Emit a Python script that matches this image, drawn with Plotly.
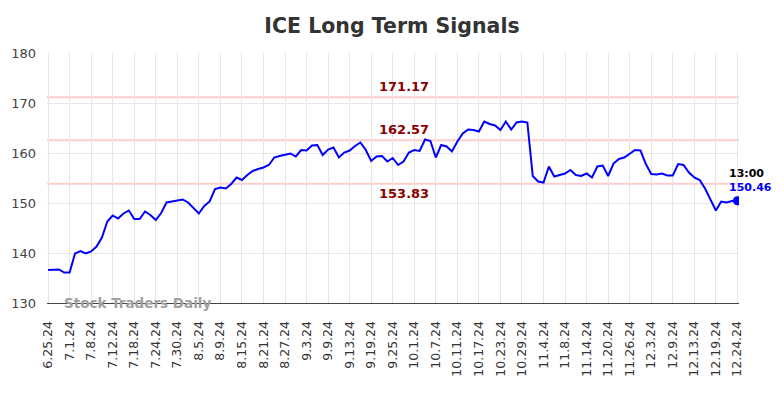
import plotly.graph_objects as go

tick_labels = ["6.25.24", "7.1.24", "7.8.24", "7.12.24", "7.18.24", "7.24.24", "7.30.24",
               "8.5.24", "8.9.24", "8.15.24", "8.21.24", "8.27.24", "9.3.24", "9.9.24",
               "9.13.24", "9.19.24", "9.25.24", "10.1.24", "10.7.24", "10.11.24", "10.17.24",
               "10.23.24", "10.29.24", "11.4.24", "11.8.24", "11.14.24", "11.20.24",
               "11.26.24", "12.3.24", "12.9.24", "12.13.24", "12.19.24", "12.24.24"]

prices = [136.6, 136.6, 136.7, 136.1, 136.1, 139.9, 140.4, 139.9, 140.3, 141.3,
          143.1, 146.3, 147.5, 146.9, 147.9, 148.5, 146.8, 146.8, 148.3, 147.6,
          146.6, 148.0, 150.1, 150.3, 150.5, 150.7, 150.1, 149.0, 147.9, 149.4,
          150.3, 152.8, 153.1, 152.9, 153.8, 155.1, 154.6, 155.6, 156.4, 156.8,
          157.1, 157.6, 159.1, 159.4, 159.7, 159.9, 159.3, 160.6, 160.5, 161.5,
          161.6, 159.6, 160.7, 161.1, 159.1, 160.1, 160.5, 161.4, 162.1, 160.6,
          158.4, 159.3, 159.4, 158.3, 159.0, 157.6, 158.3, 160.1, 160.6, 160.4,
          162.7, 162.4, 159.1, 161.6, 161.3, 160.3, 162.3, 163.9, 164.7, 164.6,
          164.3, 166.3, 165.8, 165.5, 164.6, 166.3, 164.7, 166.1, 166.3, 166.1,
          155.4, 154.3, 154.1, 157.3, 155.3, 155.6, 155.9, 156.6, 155.6, 155.4,
          155.9, 155.1, 157.3, 157.5, 155.4, 157.9, 158.8, 159.1, 159.9, 160.6,
          160.5, 157.8, 155.8, 155.7, 155.9, 155.5, 155.5, 157.8, 157.6, 156.1,
          155.1, 154.6, 152.9, 150.7, 148.5, 150.3, 150.1, 150.4, 150.46]

levels = [171.17, 162.57, 153.83]
last_label = "13:00"

x = list(range(len(prices)))
tick_pos = list(range(0, len(prices), 4))

fig = go.Figure()
fig.add_trace(go.Scatter(x=x, y=prices, mode="lines",
                         line=dict(color="#0000ff", width=2), hoverinfo="skip"))
fig.add_trace(go.Scatter(x=[x[-1]], y=[prices[-1]], mode="markers",
                         marker=dict(color="#0000ff", size=9), hoverinfo="skip"))

for lv in levels:
    fig.add_shape(type="line", xref="paper", x0=0, x1=1, y0=lv, y1=lv,
                  line=dict(color="#ffcccc", width=2), layer="below")

mid = 66
fig.add_annotation(x=mid, y=levels[0], text=f"<b>{levels[0]:.2f}</b>", showarrow=False,
                   yshift=11, font=dict(size=13, color="#8b0000", family="DejaVu Sans"))
fig.add_annotation(x=mid, y=levels[1], text=f"<b>{levels[1]:.2f}</b>", showarrow=False,
                   yshift=11, font=dict(size=13, color="#8b0000", family="DejaVu Sans"))
fig.add_annotation(x=mid, y=levels[2], text=f"<b>{levels[2]:.2f}</b>", showarrow=False,
                   yshift=-10, font=dict(size=13, color="#8b0000", family="DejaVu Sans"))

fig.add_annotation(x=x[-1], y=prices[-1], text=f"<b>{last_label}</b>", showarrow=False,
                   xanchor="center", xshift=9, yshift=27,
                   font=dict(size=11, color="#000000", family="DejaVu Sans"))
fig.add_annotation(x=x[-1], y=prices[-1], text=f"<b>{prices[-1]:.2f}</b>", showarrow=False,
                   xanchor="center", xshift=13, yshift=13,
                   font=dict(size=11, color="#0000ff", family="DejaVu Sans"))

fig.add_annotation(xref="paper", yref="paper", x=0.022, y=0.0, xanchor="left", yanchor="middle",
                   text="<b>Stock Traders Daily</b>", showarrow=False,
                   font=dict(size=13.5, color="#a0a0a0", family="DejaVu Sans"))

fig.update_layout(
    width=784, height=398,
    margin=dict(l=47, r=45, t=53, b=95),
    paper_bgcolor="white", plot_bgcolor="white",
    showlegend=False,
    title=dict(text="<b>ICE Long Term Signals</b>", x=0.5, xanchor="center", y=0.935, yanchor="middle",
               font=dict(size=20.5, color="#333333", family="DejaVu Sans")),
    font=dict(family="DejaVu Sans", color="#333333"),
)
fig.update_xaxes(range=[-0.2, 128.3], tickmode="array", tickvals=tick_pos, ticktext=tick_labels,
                 tickangle=-90, tickfont=dict(size=12.5, color="#333333"), ticklabelstandoff=12,
                 showgrid=True, gridcolor="#e6e6e6", gridwidth=1,
                 showline=True, linecolor="#444444", linewidth=1, zeroline=False, ticks="")
fig.update_yaxes(range=[130, 180], tickvals=[130, 140, 150, 160, 170, 180],
                 tickfont=dict(size=13, color="#444444"), ticklabelstandoff=10,
                 showgrid=True, gridcolor="#e6e6e6", gridwidth=1, zeroline=False, ticks="")

fig.write_html("out.html", config={"displayModeBar": False},
               post_script="document.body.style.margin='0';")
